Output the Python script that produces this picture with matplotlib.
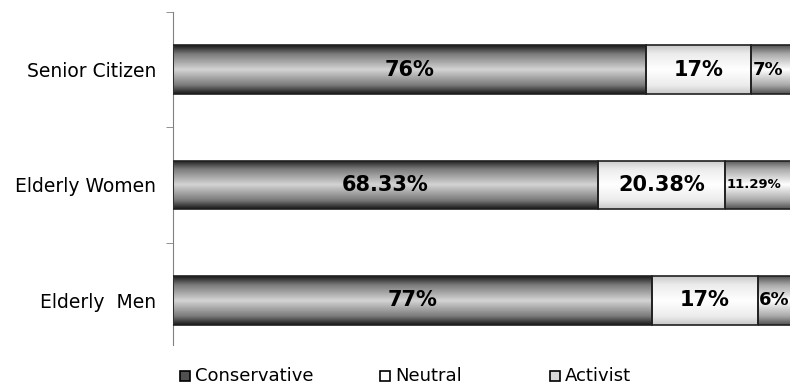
"""
Stacked horizontal bars: attitude of elderly groups
"""

import numpy as np
import matplotlib
matplotlib.use("Agg")
import matplotlib.pyplot as plt
from matplotlib.patches import Rectangle
from matplotlib.colors import LinearSegmentedColormap

# data
groups = ["Senior Citizen", "Elderly Women", "Elderly  Men"]
conservative = [76, 68.33, 77]
neutral = [17, 20.38, 17]
activist = [7, 11.29, 6]
series_names = ["Conservative", "Neutral", "Activist"]
conservative_labels = ["76%", "68.33%", "77%"]
neutral_labels = ["17%", "20.38%", "17%"]
activist_labels = ["7%", "11.29%", "6%"]

# gradient per series: edge, shoulder, centre colours
gradients = {
    "Conservative": ("#181818", "#7a7a7a", "#d4d4d4"),
    "Neutral": ("#c8c8c8", "#ececec", "#ffffff"),
    "Activist": ("#505050", "#a8a8a8", "#ffffff"),
}

fig = plt.figure(figsize=(7.9, 3.85), dpi=100)
ax = fig.add_axes([173 / 790, 27 / 385, 622 / 790, 346 / 385])

ypos = np.arange(len(groups))[::-1]
bar_h = 0.42


def shade(ax, bars, edge, shoulder, centre):
    cmap = LinearSegmentedColormap.from_list(
        "g", [(0, edge), (0.18, shoulder), (0.5, centre), (0.82, shoulder), (1, edge)])
    grad = np.linspace(0, 1, 256).reshape(-1, 1)
    for b in bars:
        x0, y0 = b.get_x(), b.get_y()
        w, h = b.get_width(), b.get_height()
        im = ax.imshow(grad, cmap=cmap, aspect="auto", interpolation="bicubic",
                       extent=(x0, x0 + w, y0, y0 + h), zorder=2)
        im.set_clip_path(b)
        b.set_facecolor("none")
        b.set_zorder(3)


left = np.zeros(len(groups))
for name, vals, labels in zip(series_names,
                              [conservative, neutral, activist],
                              [conservative_labels, neutral_labels, activist_labels]):
    bars = ax.barh(ypos, vals, left=left, height=bar_h, edgecolor="#202020",
                   linewidth=1.2, facecolor="white")
    shade(ax, bars, *gradients[name])
    for y, l, v, lab in zip(ypos, left, vals, labels):
        if name == "Activist":
            fs = 9.5 if lab == "11.29%" else 13
            ax.text(l + 0.25, y, lab, ha="left", va="center", fontsize=fs,
                    fontweight="bold", color="black", zorder=4)
        else:
            ax.text(l + v / 2, y, lab, ha="center", va="center", fontsize=15,
                    fontweight="bold", color="black", zorder=4)
    left = left + np.array(vals)

ax.set_xlim(0, 100)
ax.set_ylim(-0.5, 2.5)

for s in ["top", "right", "bottom"]:
    ax.spines[s].set_visible(False)
ax.spines["left"].set_color("#808080")
ax.spines["left"].set_bounds(-0.39, 2.5)
ax.set_xticks([])
ax.set_yticks(ypos)
ax.set_yticklabels(groups, fontsize=13.5)
ax.tick_params(axis="y", which="major", length=0, pad=12)
ax.set_yticks([0.5, 1.5, 2.5], minor=True)
ax.tick_params(axis="y", which="minor", length=5, color="#808080")

# legend drawn by hand to keep the uneven spacing of the original
legend_x = [180, 380, 550]
marker_fill = ["#505050", "#ffffff", "#d8d8d8"]
for x, name, fc in zip(legend_x, series_names, marker_fill):
    fig.patches.append(Rectangle((x / 790, 1 - 381 / 385), 10 / 790, 10 / 385,
                                 transform=fig.transFigure, facecolor=fc,
                                 edgecolor="black", linewidth=1.2))
    fig.text((x + 15) / 790, 1 - 376 / 385, name, fontsize=13,
             va="center", ha="left")

fig.savefig("out.png", dpi=100)
